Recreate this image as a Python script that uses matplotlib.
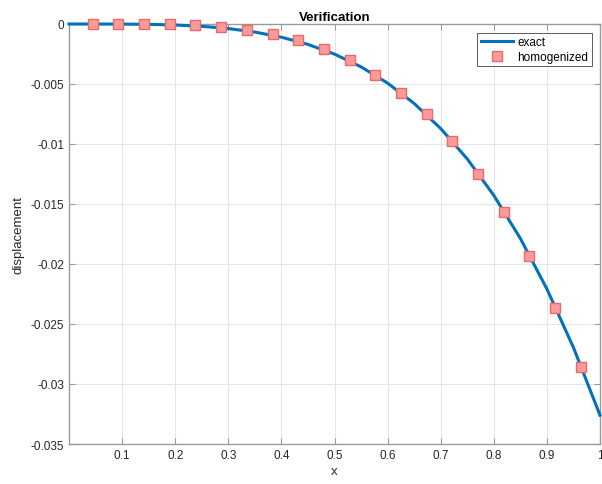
import matplotlib
matplotlib.use("Agg")
import matplotlib.pyplot as plt
import numpy as np

plt.rcParams['font.family'] = ['Liberation Sans', 'DejaVu Sans']
plt.rcParams['axes.unicode_minus'] = False

# exact solution
x_exact = [0.0, 0.05, 0.1, 0.15, 0.2, 0.25, 0.3, 0.35, 0.4, 0.45, 0.5,
           0.55, 0.6, 0.65, 0.7, 0.75, 0.8, 0.85, 0.9, 0.95, 1.0]
u_exact = [0.0, -0.0000005, -0.0000065, -0.000029, -0.0000845, -0.000193,
           -0.000379, -0.000671, -0.001099, -0.001699, -0.002508, -0.00357,
           -0.004926, -0.006621, -0.008711, -0.011244, -0.01428, -0.01787,
           -0.02208, -0.02696, -0.0326]

# homogenized solution (square markers)
x_hom = [0.045, 0.093, 0.142, 0.190, 0.238, 0.287, 0.335, 0.384, 0.432, 0.480,
         0.529, 0.577, 0.626, 0.674, 0.722, 0.771, 0.819, 0.867, 0.916, 0.964]
u_hom = [0.0, 0.0, -0.00001, -0.00003, -0.00008, -0.00025, -0.00047, -0.00086,
         -0.00136, -0.00208, -0.0030, -0.00423, -0.00573, -0.00753, -0.00975,
         -0.01248, -0.01564, -0.01933, -0.02363, -0.02856]

xticks = [0.1, 0.2, 0.3, 0.4, 0.5, 0.6, 0.7, 0.8, 0.9, 1.0]
xtick_labels = ['0.1', '0.2', '0.3', '0.4', '0.5', '0.6', '0.7', '0.8', '0.9', '1']
yticks = [-0.035, -0.03, -0.025, -0.02, -0.015, -0.01, -0.005, 0]
ytick_labels = ['-0.035', '-0.03', '-0.025', '-0.02', '-0.015', '-0.01', '-0.005', '0']

fig = plt.figure(figsize=(6.02, 4.85), dpi=100)
ax = fig.add_axes([69 / 602, 40 / 485, 531 / 602, 420 / 485])

ax.plot(x_exact, u_exact, color='#0072BD', linewidth=2.2, label='exact',
        zorder=3, clip_on=False)
ax.plot(x_hom, u_hom, linestyle='none', marker='s', markersize=7.5,
        markerfacecolor='#FF9A9A', markeredgecolor='#E86A6A', markeredgewidth=1.0,
        label='homogenized', zorder=4, clip_on=False)

ax.set_xlim(0, 1)
ax.set_ylim(-0.035, 0)
ax.set_xticks(xticks)
ax.set_xticklabels(xtick_labels)
ax.set_yticks(yticks)
ax.set_yticklabels(ytick_labels)

ax.grid(True, color='#e4e4e4', linewidth=0.7)
ax.set_axisbelow(True)
for s in ax.spines.values():
    s.set_color('#9a9a9a')
    s.set_linewidth(1.0)
ax.tick_params(direction='in', length=4, width=0.8, colors='#9a9a9a',
               labelcolor='#262626', labelsize=8.5, top=True, right=True)

ax.set_xlabel('x', fontsize=9.5, color='#262626', labelpad=3)
ax.set_ylabel('displacement', fontsize=9.5, color='#262626', labelpad=4)
ax.set_title('Verification', fontsize=9.5, fontweight='bold', color='#000000', pad=3)

leg = ax.legend(loc='upper right', bbox_to_anchor=(0.985, 0.979), borderaxespad=0,
                fontsize=8.5, frameon=True, fancybox=False, framealpha=1,
                edgecolor='#404040', handlelength=2.7, handletextpad=0.4,
                borderpad=0.3, labelspacing=0.2)
leg.get_frame().set_linewidth(0.6)

fig.savefig('out.png', dpi=100)
